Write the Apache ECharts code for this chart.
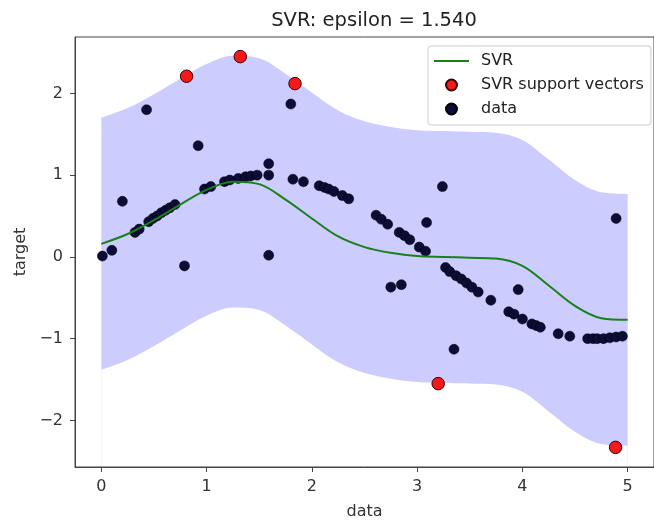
<!DOCTYPE html>
<html><head><meta charset="utf-8">
<script src="https://cdn.jsdelivr.net/npm/echarts@6/dist/echarts.min.js"></script>
<style>html,body{margin:0;padding:0;background:#fff}#c{width:654px;height:525px}</style>
</head><body><div id="c"></div>
<script>
const titleText = 'SVR: epsilon = 1.540';
const xName = 'data';
const yName = 'target';
const xTicks = [0, 1, 2, 3, 4, 5];
const yTicks = [-2, -1, 0, 1, 2];

// SVR prediction curve and epsilon tube
const curveX = [0, 0.25, 0.5, 0.75, 1.0, 1.25, 1.5, 1.75, 2.0, 2.25, 2.5, 2.75, 3.0, 3.25, 3.5, 3.75, 4.0, 4.25, 4.5, 4.75, 5.0];
const svrY = [0.16, 0.28, 0.45, 0.64, 0.82, 0.92, 0.89, 0.70, 0.47, 0.25, 0.12, 0.05, 0.01, 0.00, -0.01, -0.02, -0.11, -0.35, -0.60, -0.75, -0.77];
const bandUpper = [1.70, 1.82, 1.99, 2.18, 2.36, 2.46, 2.43, 2.24, 2.01, 1.79, 1.66, 1.59, 1.55, 1.54, 1.53, 1.52, 1.43, 1.19, 0.94, 0.79, 0.77];
const bandLower = [-1.38, -1.26, -1.09, -0.90, -0.72, -0.62, -0.65, -0.84, -1.07, -1.29, -1.42, -1.49, -1.53, -1.54, -1.55, -1.56, -1.65, -1.89, -2.14, -2.29, -2.31];

// data points
const dataX = [0.01, 0.10, 0.20, 0.32, 0.36, 0.43, 0.45, 0.49, 0.53, 0.57, 0.61, 0.65, 0.70, 0.79, 0.92, 0.98, 1.04, 1.17, 1.22, 1.30, 1.37, 1.42, 1.48, 1.59, 1.59, 1.59, 1.80, 1.82, 1.92, 2.07, 2.12, 2.16, 2.21, 2.29, 2.35, 2.61, 2.66, 2.72, 2.75, 2.83, 2.85, 2.88, 2.93, 3.02, 3.08, 3.09, 3.24, 3.27, 3.31, 3.35, 3.37, 3.42, 3.47, 3.52, 3.58, 3.70, 3.87, 3.96, 3.92, 4.00, 4.09, 4.13, 4.17, 4.34, 4.45, 4.62, 4.67, 4.71, 4.77, 4.83, 4.89, 4.95, 4.89];
const dataY = [0.01, 0.08, 0.68, 0.30, 0.34, 1.80, 0.43, 0.47, 0.50, 0.54, 0.57, 0.60, 0.64, -0.11, 1.36, 0.83, 0.86, 0.92, 0.94, 0.96, 0.98, 0.99, 1.00, 1.00, 1.14, 0.02, 1.87, 0.95, 0.92, 0.87, 0.85, 0.83, 0.80, 0.75, 0.71, 0.51, 0.46, 0.40, -0.37, 0.30, -0.34, 0.26, 0.21, 0.12, 0.07, 0.42, 0.86, -0.13, -0.18, -1.13, -0.23, -0.27, -0.32, -0.37, -0.43, -0.53, -0.67, -0.40, -0.70, -0.76, -0.82, -0.84, -0.86, -0.94, -0.97, -1.00, -1.00, -1.00, -1.00, -0.99, -0.98, -0.97, 0.47];

// support vectors
const svX = [0.81, 1.32, 1.84, 3.20, 4.885];
const svY = [2.21, 2.45, 2.12, -1.55, -2.33];

const FONT = 'DejaVu Sans';
const fmt = v => (v < 0 ? '\u2212' + Math.abs(v) : String(v));
const pairs = (xs, ys) => xs.map((x, i) => [x, ys[i]]);

const chart = echarts.init(document.getElementById('c'), null, {renderer: 'canvas'});
chart.setOption({
  animation: false,
  backgroundColor: '#fff',
  title: {
    text: titleText, left: 369, top: 6, textAlign: 'center',
    textStyle: {fontFamily: FONT, fontSize: 19.5, fontWeight: 'normal', color: '#222'}
  },
  legend: {
    orient: 'vertical', left: 428, top: 46,
    itemWidth: 35, itemHeight: 11, itemGap: 8,
    padding: [7, 7, 8, 6],
    backgroundColor: '#fff', borderColor: '#cccccc', borderWidth: 1, borderRadius: 3,
    textStyle: {fontFamily: FONT, fontSize: 16, color: '#222', lineHeight: 16, padding: [0, 0, 0, 7]},
    data: [
      {name: 'SVR', icon: 'path://M0,0 L35,0 L35,2 L0,2 Z'},
      {name: 'SVR support vectors'},
      {name: 'data'}
    ]
  },
  grid: {left: 75, right: -10, top: 37, bottom: 50, show: true, borderColor: '#444', borderWidth: 1, containLabel: false, z: 10},
  xAxis: {
    type: 'value', min: -0.25, max: 5.25, z: 10,
    axisLine: {show: true, onZero: false, lineStyle: {color: '#444', width: 1}},
    axisTick: {show: true, customValues: xTicks, length: 5, lineStyle: {color: '#444'}},
    axisLabel: {customValues: xTicks, fontFamily: FONT, fontSize: 16, color: '#333', margin: 12, formatter: fmt},
    splitLine: {show: false},
    name: xName, nameLocation: 'middle', nameGap: 37,
    nameTextStyle: {fontFamily: FONT, fontSize: 16, color: '#333'}
  },
  yAxis: {
    type: 'value', min: -2.57, max: 2.69, z: 10,
    axisLine: {show: true, onZero: false, lineStyle: {color: '#444', width: 1}},
    axisTick: {show: true, customValues: yTicks, length: 5, lineStyle: {color: '#444'}},
    axisLabel: {customValues: yTicks, fontFamily: FONT, fontSize: 16, color: '#333', margin: 12, formatter: fmt},
    splitLine: {show: false},
    name: yName, nameLocation: 'middle', nameGap: 28, nameRotate: 90,
    nameTextStyle: {fontFamily: FONT, fontSize: 16, color: '#333'}
  },
  series: [
    {
      name: 'bandUpper', type: 'line', silent: true, smooth: 0.35,
      symbol: 'none', lineStyle: {width: 0, opacity: 0}, z: 1,
      areaStyle: {color: 'rgba(0,0,255,0.2)', opacity: 1, origin: 'start'},
      data: pairs(curveX, bandUpper)
    },
    {
      name: 'bandLower', type: 'line', silent: true, smooth: 0.35,
      symbol: 'none', lineStyle: {width: 0, opacity: 0}, z: 1,
      areaStyle: {color: '#ffffff', opacity: 1, origin: 'start'},
      data: pairs(curveX, bandLower)
    },
    {
      name: 'data', type: 'scatter', symbol: 'circle', symbolSize: 10, z: 2,
      itemStyle: {color: '#0c0c36', borderColor: '#000', borderWidth: 0.5, opacity: 1},
      data: pairs(dataX, dataY)
    },
    {
      name: 'SVR', type: 'line', symbol: 'none', showSymbol: false, smooth: 0.35, z: 3,
      lineStyle: {color: '#1a801a', width: 2},
      itemStyle: {color: '#1a801a'},
      data: pairs(curveX, svrY)
    },
    {
      name: 'SVR support vectors', type: 'scatter', symbol: 'circle', symbolSize: 12.5, z: 4,
      itemStyle: {color: '#f41a1a', borderColor: '#3a0000', borderWidth: 1, opacity: 1},
      data: pairs(svX, svY)
    }
  ]
});
</script>
</body></html>
